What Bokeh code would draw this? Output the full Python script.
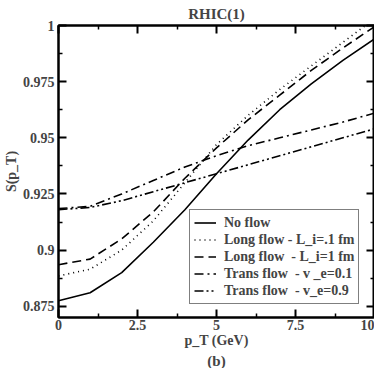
from bokeh.plotting import figure
from bokeh.models import LinearAxis, FixedTicker, Legend, LegendItem, Title, Range1d
from bokeh.embed import file_html
from bokeh.resources import INLINE

pt = [0, 1, 2, 3, 4, 5, 6, 7, 8, 9, 10]
no_flow = [0.8775, 0.881, 0.890, 0.9035, 0.918, 0.934, 0.949, 0.9625, 0.974, 0.9845, 0.994]
long_01 = [0.8885, 0.8915, 0.900, 0.913, 0.930, 0.947, 0.960, 0.9715, 0.982, 0.9925, 1.003]
long_1 = [0.8935, 0.896, 0.905, 0.917, 0.932, 0.9455, 0.958, 0.969, 0.980, 0.990, 0.9995]
trans_01 = [0.9185, 0.9195, 0.925, 0.931, 0.937, 0.942, 0.9465, 0.950, 0.9535, 0.957, 0.961]
trans_09 = [0.918, 0.919, 0.922, 0.926, 0.930, 0.934, 0.938, 0.942, 0.946, 0.950, 0.954]

series_labels = ["No flow", "Long flow - L_i=.1 fm", "Long flow  - L_i=1 fm",
                 "Trans flow  - v _e=0.1", "Trans flow  - v_e=0.9"]

x_ticks = [0, 2.5, 5, 7.5, 10]
x_minor = [1.25, 3.75, 6.25, 8.75]
x_tick_labels = ["0", "2.5", "5", "7.5", "10"]
y_ticks = [0.875, 0.9, 0.925, 0.95, 0.975, 1.0]
y_minor = [0.8875, 0.9125, 0.9375, 0.9625, 0.9875]
y_tick_labels = ["0.875", "0.9", "0.925", "0.95", "0.975", "1"]

FONT = "Liberation Serif"

p = figure(width=374, height=368, x_range=Range1d(0, 10), y_range=Range1d(0.87, 1.0),
           output_backend="svg", toolbar_location=None,
           min_border_left=0, min_border_right=0, min_border_top=0, min_border_bottom=0)
p.grid.visible = False
p.outline_line_color = "black"
p.outline_line_width = 2
p.background_fill_color = "white"
p.border_fill_color = "white"

p.title.text = "RHIC(1)"
p.title.align = "center"
p.title.text_font = FONT
p.title.text_font_size = "15px"
p.title.text_font_style = "bold"
p.title.offset = 0
p.title.standoff = 7


def style_axis(ax, ticks, minor, labels, show):
    ax.ticker = FixedTicker(ticks=ticks, minor_ticks=minor)
    ax.axis_line_width = 2
    ax.major_tick_in = 8
    ax.major_tick_out = 0
    ax.minor_tick_in = 4
    ax.minor_tick_out = 0
    ax.major_tick_line_width = 2
    ax.minor_tick_line_width = 1.5
    if show:
        ax.major_label_overrides = {t: l for t, l in zip(ticks, labels)}
        ax.major_label_text_font = FONT
        ax.major_label_text_font_style = "bold"
        ax.major_label_text_font_size = "14px"
        ax.major_label_standoff = 4
        ax.axis_label_text_font = FONT
        ax.axis_label_text_font_style = "bold"
        ax.axis_label_text_font_size = "14px"
        ax.axis_label_standoff = 3
    else:
        ax.major_label_overrides = {t: "" for t in ticks}
        ax.major_label_standoff = 0


xa = p.xaxis[0]
ya = p.yaxis[0]
style_axis(xa, x_ticks, x_minor, x_tick_labels, True)
style_axis(ya, y_ticks, y_minor, y_tick_labels, True)
xa.axis_label = "p_T (GeV)"
ya.axis_label = "S(p_T)"
xa.major_label_standoff = 2
xa.axis_label_standoff = 0
ya.axis_label_standoff = 1

ra = LinearAxis()
style_axis(ra, y_ticks, y_minor, y_tick_labels, False)
p.add_layout(ra, "right")
ta = LinearAxis()
style_axis(ta, x_ticks, x_minor, x_tick_labels, False)
p.add_layout(ta, "above")

sub = Title(text="(b)", align="center", text_font=FONT, text_font_style="bold",
            text_font_size="15px", standoff=0, offset=0)
p.add_layout(sub, "below")

lw = 1.6
r0 = p.line(pt, no_flow, line_color="black", line_width=lw)
r1 = p.line(pt, long_01, line_color="black", line_width=lw, line_dash="1 4")
r2 = p.line(pt, long_1, line_color="black", line_width=lw, line_dash="9 5")
r3 = p.line(pt, trans_01, line_color="black", line_width=lw, line_dash="9 4 2 4")
r4 = p.line(pt, trans_09, line_color="black", line_width=lw, line_dash="9 3 2 3 2 3")

legend = Legend(items=[LegendItem(label=l, renderers=[r]) for l, r in
                       zip(series_labels, [r0, r1, r2, r3, r4])],
                location=(131, 13))
legend.label_text_font = FONT
legend.label_text_font_style = "bold"
legend.label_text_font_size = "14px"
legend.glyph_width = 22
legend.glyph_height = 17
legend.label_height = 17
legend.label_standoff = 8
legend.spacing = 0
legend.padding = 4
legend.margin = 0
legend.border_line_color = "black"
legend.border_line_width = 1.5
legend.background_fill_alpha = 1
p.add_layout(legend, "center")

open("out.html", "w").write(file_html(p, INLINE))
